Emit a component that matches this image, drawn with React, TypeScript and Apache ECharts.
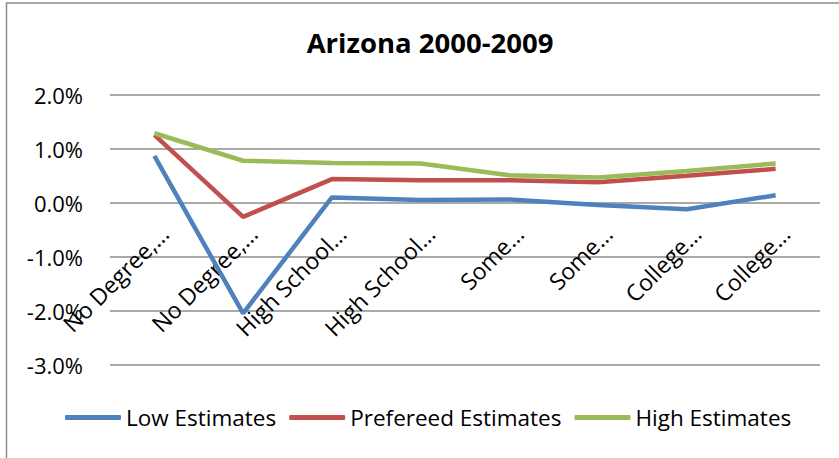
import React, { useEffect, useRef } from "react";
import * as echarts from "echarts";

const categories = [
  "No Degree,…",
  "No Degree,…",
  "High School…",
  "High School…",
  "Some…",
  "Some…",
  "College…",
  "College…",
];
const lowEstimates = [0.87, -2.05, 0.1, 0.05, 0.06, -0.04, -0.12, 0.14];
const preferredEstimates = [1.26, -0.26, 0.44, 0.42, 0.42, 0.38, 0.5, 0.63];
const highEstimates = [1.29, 0.78, 0.74, 0.73, 0.51, 0.47, 0.59, 0.73];
const seriesNames = ["Low Estimates", "Prefereed Estimates", "High Estimates"];
const colors = ["#4F81BD", "#C0504D", "#9BBB59"];
const yMin = -3;
const yMax = 2;
const yStep = 1;

const FONT = "'Open Sans', 'Noto Sans', sans-serif";

export default function App() {
  const ref = useRef<HTMLDivElement>(null);
  useEffect(() => {
    if (!ref.current) return;
    const chart = echarts.init(ref.current, null, { renderer: "svg" });
    const mk = (name: string, data: number[], color: string) => ({
      name,
      type: "line",
      data,
      symbol: "none",
      showSymbol: false,
      lineStyle: { color, width: 4.5 },
      itemStyle: { color },
    });
    chart.setOption({
      animation: false,
      backgroundColor: "#ffffff",
      textStyle: { fontFamily: FONT },
      title: {
        text: "Arizona 2000-2009",
        left: 425,
        textAlign: "center",
        top: 23,
        textStyle: { fontFamily: FONT, fontSize: 27.5, fontWeight: "bold", color: "#000" },
      },
      legend: {
        data: seriesNames,
        left: 60,
        top: 401,
        icon: "roundRect",
        itemWidth: 56,
        itemHeight: 5,
        itemGap: 13,
        textStyle: { fontFamily: FONT, fontSize: 22.5, color: "#000" },
      },
      grid: {
        left: 110,
        right: 19,
        top: 95,
        bottom: 93.5,
        containLabel: false,
        outerBoundsMode: "none",
      },
      xAxis: {
        type: "category",
        data: categories,
        boundaryGap: true,
        axisLine: { show: false, onZero: false },
        axisTick: { show: false },
        axisLabel: {
          interval: 0,
          rotate: 45,
          margin: -125,
          padding: [0, -14, 0, 0],
          fontFamily: FONT,
          fontSize: 23,
          color: "#000",
          hideOverlap: false,
        },
        splitLine: { show: false },
      },
      yAxis: {
        type: "value",
        min: yMin,
        max: yMax,
        interval: yStep,
        axisLine: { show: false },
        axisTick: { show: false },
        axisLabel: {
          margin: 27,
          fontFamily: FONT,
          fontSize: 22,
          color: "#000",
          formatter: (v: number) => v.toFixed(1) + "%",
        },
        splitLine: { show: true, lineStyle: { color: "#8c8c8c", width: 1.5 } },
      },
      graphic: [
        {
          type: "rect",
          shape: { x: 6.5, y: 3, width: 900, height: 600 },
          style: { fill: "none", stroke: "#8c8c8c", lineWidth: 1.5 },
          silent: true,
          z: 100,
        },
      ],
      series: [
        mk(seriesNames[0], lowEstimates, colors[0]),
        mk(seriesNames[1], preferredEstimates, colors[1]),
        mk(seriesNames[2], highEstimates, colors[2]),
      ],
    });
    return () => chart.dispose();
  }, []);
  return (
    <div
      ref={ref}
      style={{ position: "fixed", left: 0, top: 0, width: 839, height: 458 }}
    />
  );
}
